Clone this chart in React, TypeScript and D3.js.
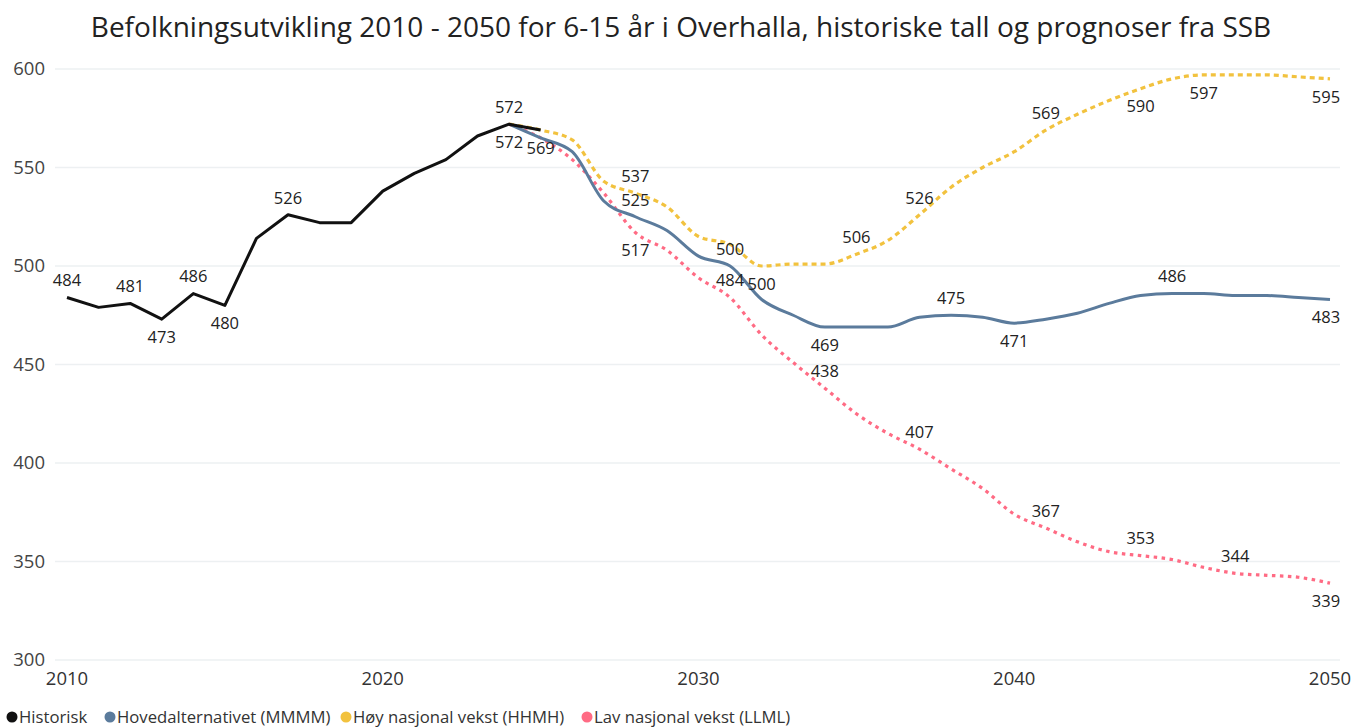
import React from "react";
import * as d3 from "d3";

const historiskYears = [2010, 2011, 2012, 2013, 2014, 2015, 2016, 2017, 2018, 2019, 2020, 2021, 2022, 2023, 2024, 2025];
const historisk = [484, 479, 481, 473, 486, 480, 514, 526, 522, 522, 538, 547, 554, 566, 572, 569];

const progYears = [2024, 2025, 2026, 2027, 2028, 2029, 2030, 2031, 2032, 2033, 2034, 2035, 2036, 2037, 2038, 2039, 2040, 2041, 2042, 2043, 2044, 2045, 2046, 2047, 2048, 2049, 2050];
const mmmm = [572, 565, 558, 533, 525, 518, 505, 500, 483, 475, 469, 469, 469, 474, 475, 474, 471, 473, 476, 481, 485, 486, 486, 485, 485, 484, 483];
const hhmh = [572, 569, 564, 543, 537, 530, 515, 511, 500, 501, 501, 506, 513, 526, 540, 550, 558, 569, 577, 584, 590, 595, 597, 597, 597, 596, 595];
const llml = [572, 565, 554, 537, 517, 508, 494, 484, 465, 451, 438, 425, 415, 407, 397, 387, 374, 367, 360, 355, 353, 351, 347, 344, 343, 342, 339];

const yTicks = [300, 350, 400, 450, 500, 550, 600];
const xTicks = [2010, 2020, 2030, 2040, 2050];

const seriesNames = ["Historisk", "Hovedalternativet (MMMM)", "Høy nasjonal vekst (HHMH)", "Lav nasjonal vekst (LLML)"];
const seriesColors = ["#111111", "#5B7B9C", "#F2C23E", "#FF6B84"];

// labelled points: [series index, year, "above" | "below"]
const labelPoints: [number, number, string][] = [
  [0, 2010, "above"], [0, 2012, "above"], [0, 2013, "below"], [0, 2014, "above"], [0, 2015, "below"],
  [0, 2017, "above"], [0, 2024, "above"], [0, 2025, "below"],
  [1, 2024, "below"], [1, 2028, "above"], [1, 2031, "above"], [1, 2034, "below"], [1, 2038, "above"],
  [1, 2040, "below"], [1, 2045, "above"], [1, 2050, "below"],
  [2, 2028, "above"], [2, 2032, "below"], [2, 2035, "above"], [2, 2037, "above"], [2, 2041, "above"],
  [2, 2044, "below"], [2, 2046, "below"], [2, 2050, "below"],
  [3, 2028, "below"], [3, 2031, "above"], [3, 2034, "above"], [3, 2037, "above"], [3, 2041, "above"],
  [3, 2044, "above"], [3, 2047, "above"], [3, 2050, "below"],
];

const W = 1354;
const H = 728;
const FONT = "'Open Sans', 'Noto Sans', sans-serif";

export default function App() {
  const x = d3.scaleLinear().domain([2010, 2050]).range([67, 1330]);
  const y = d3.scaleLinear().domain([300, 600]).range([660, 69]);

  const seriesData: { year: number; value: number }[][] = [
    historiskYears.map((yr, i) => ({ year: yr, value: historisk[i] })),
    progYears.map((yr, i) => ({ year: yr, value: mmmm[i] })),
    progYears.map((yr, i) => ({ year: yr, value: hhmh[i] })),
    progYears.map((yr, i) => ({ year: yr, value: llml[i] })),
  ];

  const linear = d3.line<{ year: number; value: number }>().x((d) => x(d.year)).y((d) => y(d.value));
  const smooth = d3
    .line<{ year: number; value: number }>()
    .x((d) => x(d.year))
    .y((d) => y(d.value))
    .curve(d3.curveMonotoneX);

  const dashes = [undefined, undefined, "5 4", "3.5 4.5"];
  const widths = [3, 3, 3.2, 3.2];

  const legendX = [12, 110, 346, 587];

  return (
    <svg width={W} height={H} style={{ position: "absolute", left: 0, top: 0, background: "#fff" }} fontFamily={FONT}>
      <rect x={0} y={0} width={W} height={H} fill="#fff" />
      <text x={681} y={37} textAnchor="middle" fontSize={28} fill="#222">
        Befolkningsutvikling 2010 - 2050 for 6-15 år i Overhalla, historiske tall og prognoser fra SSB
      </text>

      {yTicks.map((t) => (
        <g key={t}>
          <line x1={55} x2={1340} y1={y(t)} y2={y(t)} stroke="#EDF0F2" strokeWidth={1.5} />
          <text x={45} y={y(t)} dy="0.35em" textAnchor="end" fontSize={18.5} fill="#444">
            {t}
          </text>
        </g>
      ))}

      {xTicks.map((t) => (
        <text key={t} x={x(t)} y={679} dy="0.35em" textAnchor="middle" fontSize={18.5} fill="#333">
          {t}
        </text>
      ))}

      {[3, 2, 1, 0].map((si) => (
        <path
          key={si}
          d={(si === 0 ? linear : smooth)(seriesData[si]) || ""}
          fill="none"
          stroke={seriesColors[si]}
          strokeWidth={widths[si]}
          strokeDasharray={dashes[si]}
          strokeLinejoin="round"
        />
      ))}

      {labelPoints.map(([si, yr, pos], i) => {
        const pt = seriesData[si].find((d) => d.year === yr)!;
        let lx = x(yr);
        lx = Math.max(58, Math.min(1326, lx));
        const ly = y(pt.value) + (pos === "above" ? -17 : 18);
        return (
          <text key={i} x={lx} y={ly} dy="0.35em" textAnchor="middle" fontSize={16.5} fill="#222">
            {pt.value}
          </text>
        );
      })}

      {seriesNames.map((name, i) => (
        <g key={name}>
          <circle cx={legendX[i]} cy={717} r={5.5} fill={seriesColors[i]} />
          <text x={legendX[i] + 7} y={717} dy="0.35em" fontSize={16.7} fill="#333">
            {name}
          </text>
        </g>
      ))}
    </svg>
  );
}
